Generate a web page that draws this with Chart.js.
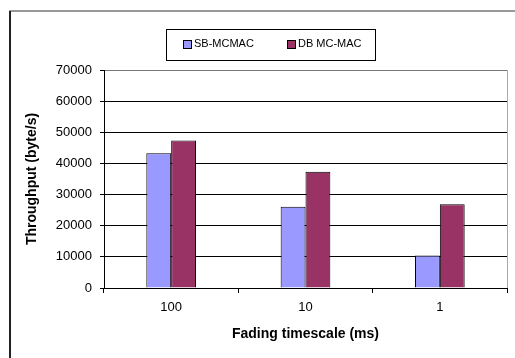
<!DOCTYPE html>
<html>
<head>
<meta charset="utf-8">
<script src="https://cdn.jsdelivr.net/npm/chart.js@4"></script>
<style>
  html, body { margin: 0; padding: 0; background: #fff; }
  canvas { display: block; }
</style>
</head>
<body>
<canvas id="chart" width="515" height="358"></canvas>
<script>
const categories = ['100', '10', '1'];
const seriesNames = ['SB-MCMAC', 'DB MC-MAC'];
const sbValues = [43300, 26100, 10400];
const dbValues = [47400, 37300, 26900];
const yTicks = [0, 10000, 20000, 30000, 40000, 50000, 60000, 70000];

const colors = ['#9999FF', '#993366'];
const font = 'Liberation Sans, Arial, sans-serif';

// outer frame, legend box and plot border (decoration only)
const decor = {
  id: 'decor',
  beforeDraw(chart) {
    const c = chart.ctx;
    c.save();
    c.fillStyle = '#fff';
    c.fillRect(0, 0, chart.width, chart.height);
    c.strokeStyle = '#777';
    c.lineWidth = 1.5;
    c.beginPath();
    c.moveTo(10, 358);
    c.lineTo(10, 11);
    c.lineTo(515, 11);
    c.stroke();
    c.strokeStyle = '#222';
    c.lineWidth = 2;
    c.beginPath();
    c.moveTo(10, 358);
    c.lineTo(10, 11);
    c.stroke();
    c.restore();
  },
  afterDraw(chart) {
    const c = chart.ctx;
    const a = chart.chartArea;
    c.save();
    c.strokeStyle = '#aaa';
    c.lineWidth = 1;
    c.beginPath();
    c.moveTo(a.right + 0.5, a.top);
    c.lineTo(a.right + 0.5, a.bottom);
    c.stroke();

    // legend
    c.strokeStyle = '#000';
    c.strokeRect(166.5, 29.5, 209, 31);
    c.font = '11px ' + font;
    c.textBaseline = 'middle';
    const xs = [183, 287];
    chart.data.datasets.forEach((ds, i) => {
      c.fillStyle = ds.backgroundColor;
      c.fillRect(xs[i], 40, 8, 8);
      c.strokeStyle = '#000';
      c.strokeRect(xs[i] + 0.5, 40.5, 8, 8);
      c.fillStyle = '#000';
      c.fillText(ds.label, xs[i] + 11, 44);
    });
    c.restore();
  }
};

new Chart(document.getElementById('chart'), {
  type: 'bar',
  data: {
    labels: categories,
    datasets: [
      { label: seriesNames[0], data: sbValues, backgroundColor: colors[0], borderColor: '#000', borderWidth: 1 },
      { label: seriesNames[1], data: dbValues, backgroundColor: colors[1], borderColor: '#000', borderWidth: 1 }
    ]
  },
  options: {
    responsive: false,
    animation: false,
    devicePixelRatio: 1,
    layout: { padding: { left: 20, right: 8, top: 70, bottom: 10 } },
    categoryPercentage: 0.37,
    barPercentage: 1.0,
    plugins: {
      legend: { display: false },
      tooltip: { enabled: false }
    },
    scales: {
      x: {
        grid: { drawOnChartArea: false, drawTicks: true, tickLength: 5, color: '#000', offset: true },
        border: { color: '#000', width: 1 },
        ticks: { color: '#000', font: { family: font, size: 13 }, padding: 7 },
        title: { display: true, text: 'Fading timescale (ms)', color: '#000',
                 font: { family: font, size: 14, weight: 'bold' }, padding: { top: 4, bottom: 5 } },
        afterFit(scale) { scale.height = 60; }
      },
      y: {
        min: 0,
        max: 70000,
        afterBuildTicks(scale) { scale.ticks = yTicks.map(v => ({ value: v })); },
        grid: {
          color: ctx => (ctx.tick && ctx.tick.value === 70000 ? '#777' : '#000'),
          tickColor: '#000',
          tickLength: 4
        },
        border: { color: '#000', width: 1 },
        ticks: { color: '#000', font: { family: font, size: 13 }, padding: 8, callback: v => String(v) },
        title: { display: true, text: 'Throughput (byte/s)', color: '#000',
                 font: { family: font, size: 14, weight: 'bold' }, padding: { top: 4, bottom: 0 } },
        afterFit(scale) { scale.width = 84; }
      }
    }
  },
  plugins: [decor]
});
</script>
</body>
</html>
